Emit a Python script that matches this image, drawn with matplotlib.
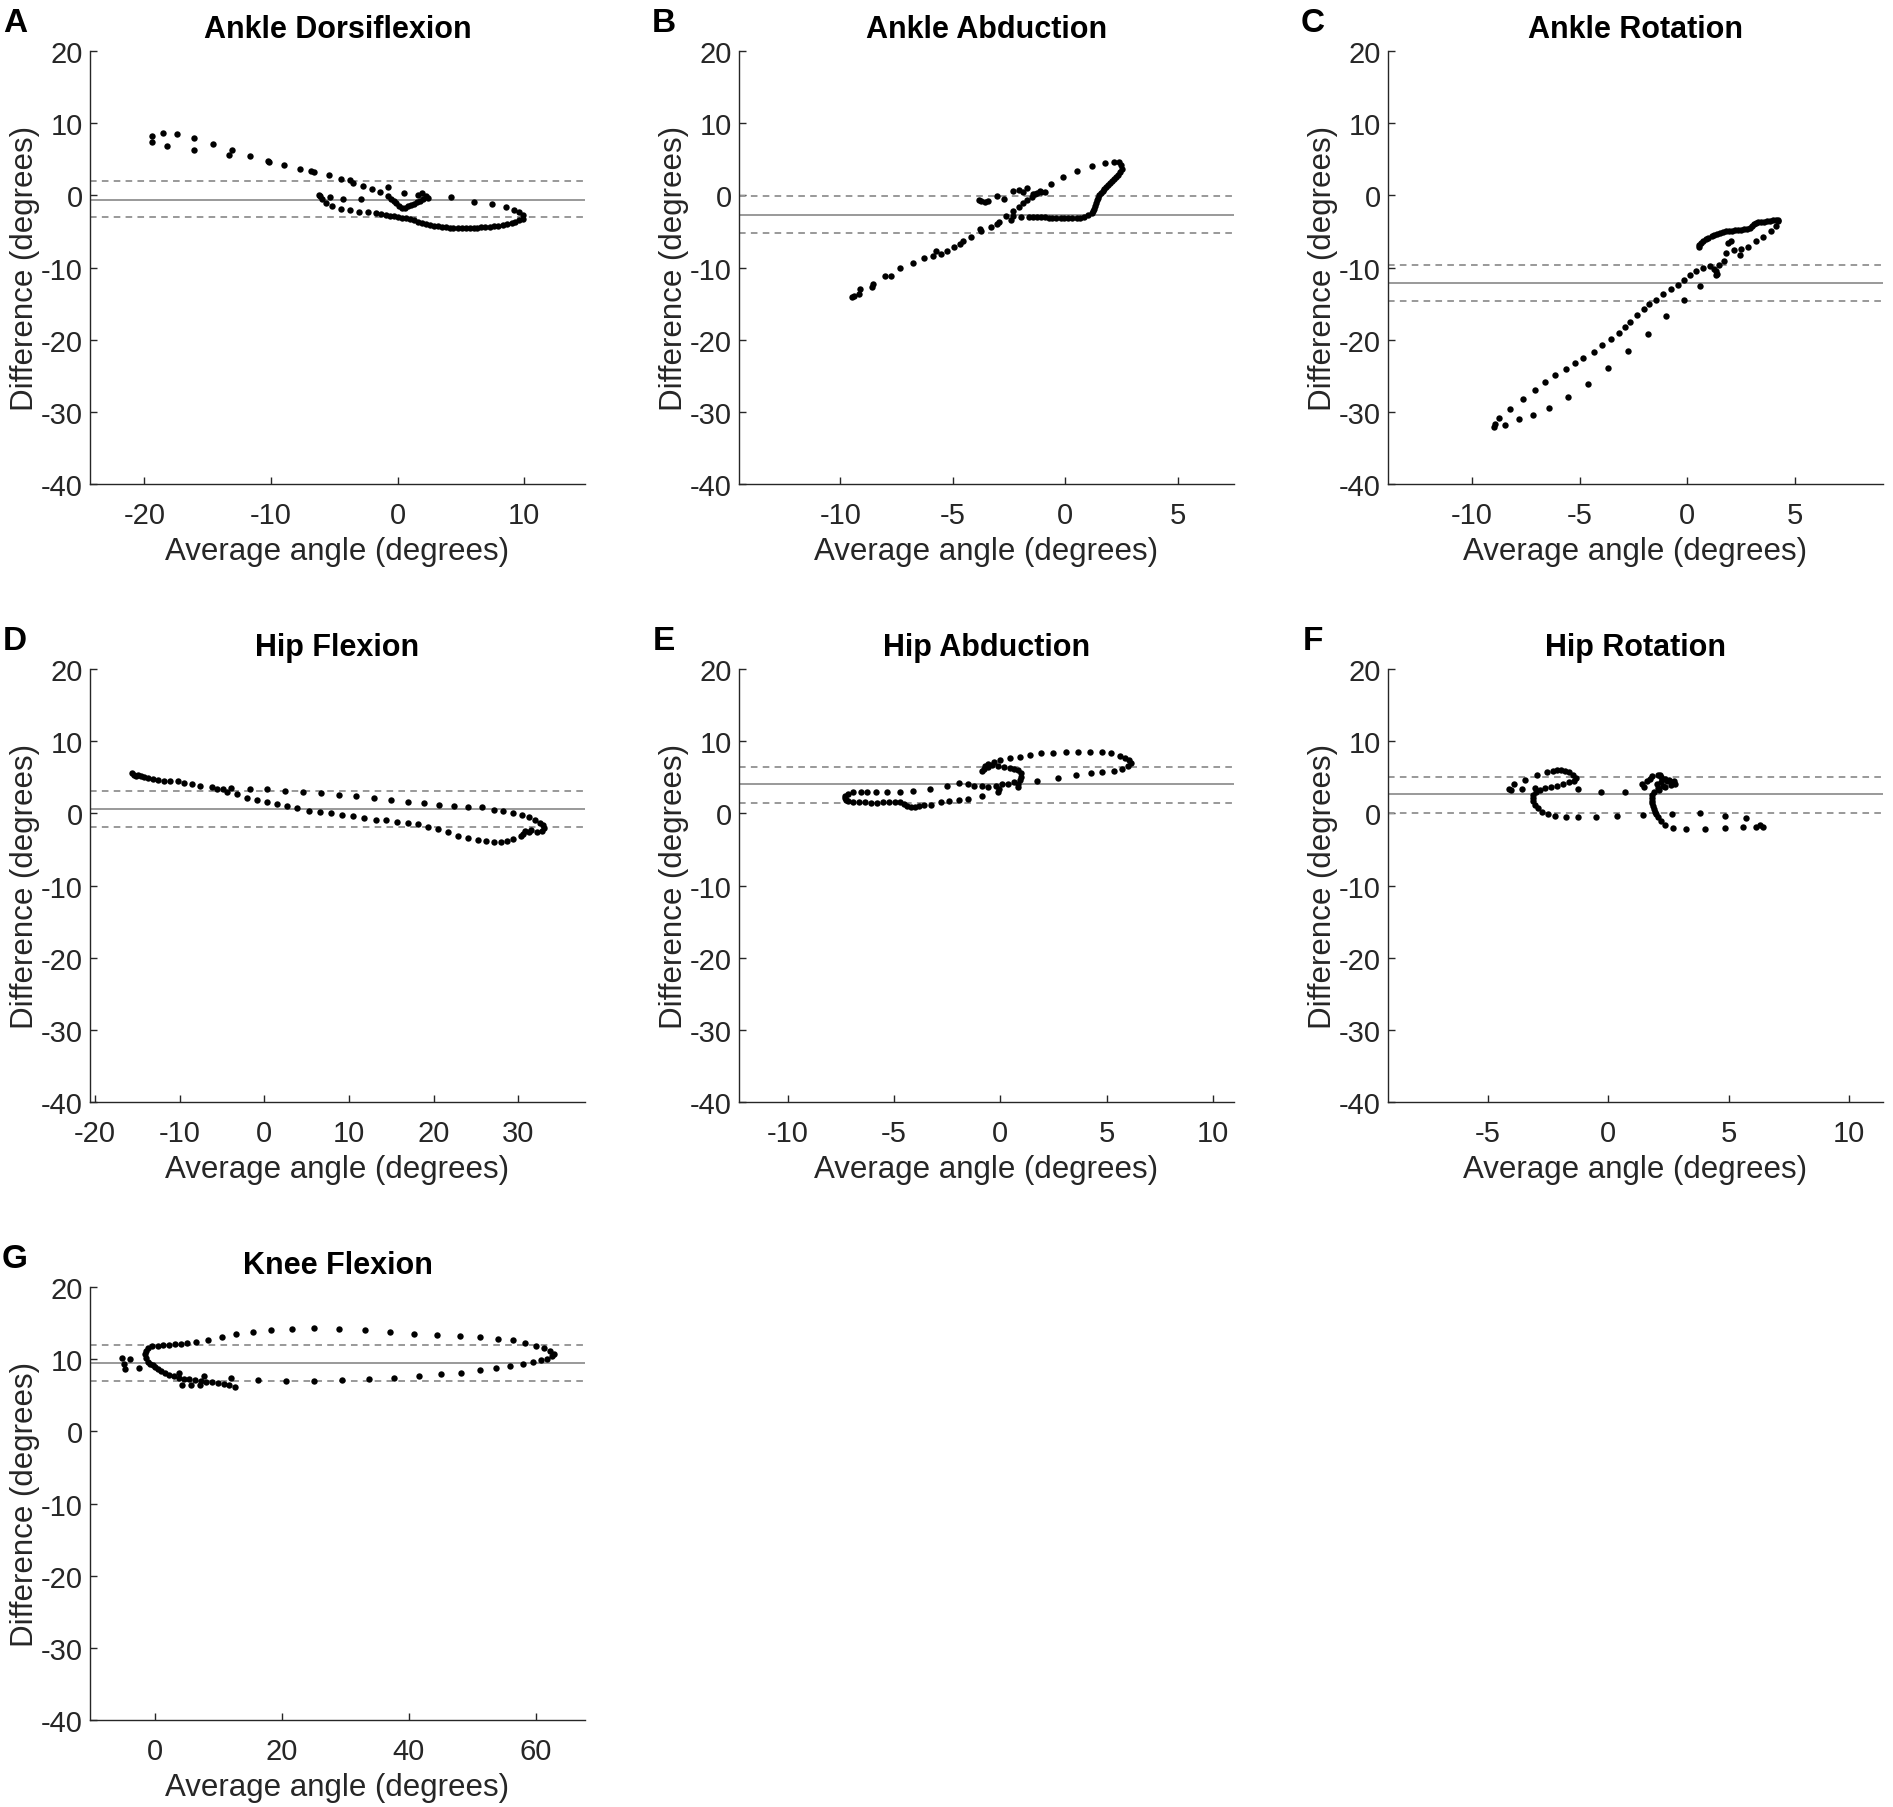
import matplotlib
matplotlib.use("Agg")
import matplotlib.pyplot as plt

plt.rcParams['font.family'] = ['Liberation Sans', 'DejaVu Sans']
plt.rcParams['axes.unicode_minus'] = False

# ---------------- data ----------------
titles = ["Ankle Dorsiflexion", "Ankle Abduction", "Ankle Rotation",
          "Hip Flexion", "Hip Abduction", "Hip Rotation", "Knee Flexion"]
letters = ["A", "B", "C", "D", "E", "F", "G"]

# bias (mean), upper and lower limits of agreement
bias = [-0.6, -2.73, -12.1, 0.56, 4.03, 2.65, 9.49]
loa_upper = [1.94, -0.15, -9.7, 3.06, 6.48, 5.10, 11.99]
loa_lower = [-3.06, -5.2, -14.66, -1.94, 1.48, 0.10, 6.99]

xlims = [(-24.3, 14.8), (-14.5, 7.5), (-13.9, 9.1), (-20.6, 37.9),
         (-12.3, 11.0), (-9.15, 11.4), (-10.2, 67.7)]
xticks = [[-20, -10, 0, 10], [-10, -5, 0, 5], [-10, -5, 0, 5],
          [-20, -10, 0, 10, 20, 30], [-10, -5, 0, 5, 10], [-5, 0, 5, 10],
          [0, 20, 40, 60]]
yticks = [-40, -30, -20, -10, 0, 10, 20]

# Panel A: Ankle Dorsiflexion
a_x = [-19.39, -19.39, -18.57, -18.19, -17.44, -16.06, -16.06, -14.58, -13.29, -13.07,
       -11.66, -10.24, -10.15, -8.95, -7.73, -6.88, -6.57, -5.44, -4.46, -3.74,
       -3.49, -2.73, -2.01, -1.38, -0.79, -0.75, -0.5, -0.28, -0.1, 0.09,
       0.35, 0.5, 0.6, 0.82, 1.05, 1.29, 1.5, 1.6, 1.76, 1.92,
       2.0, 2.23, 2.39, 4.21, 6.06, 7.48, 8.55, 9.21, 9.61, 9.93,
       9.93, 9.6, 9.3, 9.0, 8.6, 8.3, 7.9, 7.6, 7.26, 6.9,
       6.6, 6.3, 6.0, 5.7, 5.37, 5.05, 4.74, 4.4, 4.12, 3.8,
       3.49, 3.2, 2.86, 2.55, 2.23, 1.9, 1.6, 1.3, 0.97, 0.65,
       0.35, 0.0, -0.28, -0.6, -0.91, -1.3, -1.7, -2.32, -3.02, -3.8,
       -4.49, -5.15, -5.62, -5.94, -6.10, -6.2, -5.37, -4.30, -2.89]
a_y = [8.17, 7.35, 8.68, 6.79, 8.53, 7.92, 6.28, 7.10, 5.52, 6.23,
       5.46, 4.75, 4.55, 4.19, 3.68, 3.37, 3.27, 2.81, 2.30, 2.09,
       1.69, 1.28, 0.82, 0.41, 1.17, -0.15, -0.45, -0.77, -1.1, -1.53,
       -1.79, 0.26, -1.7, -1.53, -1.35, -1.17, -0.97, 0.0, -0.77, 0.36,
       -0.5, -0.15, -0.36, -0.20, -0.92, -1.23, -1.63, -2.09, -2.35, -2.71,
       -3.22, -3.45, -3.65, -3.8, -3.95, -4.05, -4.19, -4.28, -4.34, -4.4,
       -4.44, -4.47, -4.49, -4.52, -4.55, -4.55, -4.55, -4.52, -4.49, -4.45,
       -4.39, -4.3, -4.19, -4.07, -3.93, -3.78, -3.63, -3.47, -3.32, -3.2,
       -3.12, -3.0, -2.91, -2.8, -2.71, -2.6, -2.5, -2.35, -2.25, -2.09,
       -1.94, -1.53, -1.02, -0.51, -0.10, 0.0, -0.26, -0.51, -0.51]

# Panel B: Ankle Abduction
b_x = [-9.50, -9.41, -9.15, -9.11, -8.61, -8.53, -8.03, -7.73, -7.34, -6.76,
       -6.26, -5.87, -5.73, -5.52, -5.25, -4.95, -4.67, -4.55, -4.19, -3.79,
       -3.75, -3.31, -3.04, -2.95, -2.65, -2.39, -2.34, -2.07, -1.89, -1.68,
       -1.50, -1.33, -1.13, -0.65, -0.12, 0.53, 1.20, 1.77, 2.18, 2.39,
       2.48, 2.53, 2.44, 2.35, 2.26, 2.18, 2.09, 2.0, 1.91, 1.82,
       1.73, 1.66, 1.59, 1.52, 1.47, 1.41, 1.38, 1.33, 1.29, 1.24,
       1.20, 1.03, 0.85, 0.67, 0.50, 0.32, 0.14, -0.04, -0.21, -0.39,
       -0.57, -0.74, -0.92, -1.10, -1.27, -1.45, -1.63, -1.98, -2.33, -3.75,
       -3.57, -3.43, -3.84, -3.04, -2.74, -2.33, -2.07, -1.89, -1.68, -1.45,
       -1.27, -1.10, -0.92]
b_y = [-14.13, -13.92, -13.62, -13.01, -12.66, -12.25, -11.14, -11.24, -10.13, -9.37,
       -8.71, -8.35, -7.70, -8.10, -7.75, -7.19, -6.68, -6.28, -5.77, -4.66,
       -5.01, -4.35, -4.00, -3.65, -2.89, -3.39, -2.13, -1.62, -1.11, -0.61,
       -0.20, 0.15, 0.61, 1.52, 2.53, 3.34, 4.10, 4.46, 4.61, 4.56,
       4.20, 3.70, 3.19, 2.84, 2.53, 2.23, 1.92, 1.67, 1.42, 1.11,
       0.81, 0.56, 0.30, 0.0, -0.35, -0.71, -1.11, -1.47, -1.87, -2.13,
       -2.38, -2.78, -3.04, -3.09, -3.14, -3.19, -3.19, -3.19, -3.14, -3.14,
       -3.09, -3.09, -3.04, -3.04, -2.99, -2.99, -2.94, -2.94, -2.89, -0.76,
       -0.86, -0.76, -0.61, -0.10, -0.51, 0.66, 0.76, 0.41, 1.01, 0.15,
       0.30, 0.41, 0.51]

# Panel C: Ankle Rotation
c_x = [-8.97, -8.94, -8.74, -8.47, -8.21, -7.82, -7.62, -7.15, -7.08, -6.59,
       -6.41, -6.12, -5.65, -5.54, -5.22, -4.82, -4.60, -4.35, -3.95, -3.68,
       -3.52, -3.16, -2.91, -2.74, -2.65, -2.33, -2.02, -1.82, -1.75, -1.43,
       -1.12, -1.0, -0.76, -0.43, -0.16, -0.13, 0.14, 0.42, 0.60, 0.74,
       1.05, 1.23, 1.32, 1.32, 1.41, 1.46, 1.71, 1.82, 1.90, 2.04,
       2.18, 2.45, 2.49, 2.85, 3.21, 3.52, 3.88, 4.12, 4.24, 4.24,
       4.12, 3.99, 3.84, 3.70, 3.57, 3.43, 3.30, 3.21, 3.12, 3.03,
       2.94, 2.76, 2.62, 2.49, 2.35, 2.22, 2.08, 1.95, 1.81, 1.68,
       1.53, 1.41, 1.26, 1.14, 0.99, 0.87, 0.74, 0.63, 0.56, 0.54]
c_y = [-32.07, -31.66, -30.9, -31.8, -29.6, -31.05, -28.2, -30.4, -26.97, -25.8,
       -29.4, -24.9, -24.0, -27.9, -23.2, -22.5, -26.1, -21.65, -20.8, -23.9,
       -19.9, -19.05, -18.23, -21.6, -17.5, -16.6, -15.73, -19.15, -15.07, -14.45,
       -13.64, -16.7, -13.02, -12.41, -14.56, -11.75, -10.98, -10.47, -12.6, -10.06,
       -9.86, -10.2, -10.47, -10.98, -10.88, -9.70, -9.09, -8.02, -6.64, -6.38,
       -7.51, -8.22, -7.41, -7.15, -6.38, -5.77, -4.95, -4.24, -3.58, -3.42,
       -3.42, -3.47, -3.52, -3.58, -3.63, -3.68, -3.73, -3.83, -4.03, -4.29,
       -4.49, -4.65, -4.70, -4.75, -4.80, -4.85, -4.90, -4.95, -5.01, -5.11,
       -5.21, -5.36, -5.52, -5.67, -5.87, -6.08, -6.33, -6.64, -6.89, -7.15]

# Panel D: Hip Flexion
d_x = [-15.63, -15.40, -15.16, -14.93, -14.60, -14.23, -13.76, -13.19, -12.58, -11.88,
       -11.17, -10.24, -9.53, -8.59, -7.65, -6.24, -5.54, -4.84, -4.37, -3.90,
       -3.19, -2.02, -1.74, -0.85, 0.33, 0.33, 1.50, 2.44, 2.68, 3.85,
       4.55, 5.26, 6.53, 6.67, 7.84, 8.78, 9.15, 10.52, 10.89, 11.83,
       13.0, 13.24, 14.41, 15.02, 15.73, 17.0, 17.0, 18.17, 18.87, 19.34,
       20.52, 20.61, 21.69, 22.39, 22.86, 24.04, 24.04, 25.21, 25.68, 26.15,
       27.09, 27.09, 27.93, 28.26, 28.73, 29.44, 29.44, 30.47, 30.38, 31.32,
       31.32, 32.02, 32.63, 32.96, 33.10, 32.82, 32.25, 30.85, 30.61, 31.55]
d_y = [5.56, 5.31, 5.20, 5.26, 5.15, 5.05, 4.95, 4.80, 4.64, 4.54,
       4.54, 4.44, 4.23, 4.03, 3.83, 3.62, 3.32, 3.42, 3.01, 3.52,
       2.70, 2.19, 3.42, 1.79, 1.58, 3.32, 1.28, 3.11, 1.07, 0.71,
       2.96, 0.31, 0.15, 2.81, 0.0, 2.60, -0.26, -0.41, 2.35, -0.66,
       2.09, -0.87, -0.97, 1.79, -1.17, 1.63, -1.38, -1.48, 1.48, -1.84,
       -2.19, 1.12, -2.60, 1.07, -3.11, -3.47, 0.92, -3.67, 0.82, -3.83,
       -3.98, 0.46, -4.03, 0.26, -3.88, 0.0, -3.62, -0.20, -3.21, -0.56,
       -2.60, -0.92, -1.33, -1.68, -2.09, -2.45, -2.60, -2.50, -2.86, -2.35]

# Panel E: Hip Abduction
e_x = [-7.30, -7.33, -7.26, -7.15, -6.92, -6.64, -6.36, -6.08, -5.80, -5.52,
       -5.24, -4.96, -4.71, -4.55, -4.40, -4.21, -4.02, -3.84, -3.59, -3.27,
       -2.81, -2.43, -1.96, -1.50, -0.84, -0.09, -0.04, -7.15, -6.92, -6.55,
       -6.27, -5.86, -5.33, -4.73, -4.12, -3.33, -2.53, -1.96, -1.50, -1.22,
       -0.84, -0.56, -0.19, 0.09, 0.37, 0.65, 0.84, 0.94, 0.99, 0.97,
       0.84, 0.65, 0.47, 0.19, -0.09, -0.37, -0.60, -0.79, -0.84, -0.71,
       -0.56, -0.28, 0.0, 0.47, 0.94, 1.40, 1.91, 2.47, 3.09, 3.68,
       4.21, 4.77, 5.20, 5.65, 5.89, 6.08, 6.14, 5.99, 5.71, 5.33,
       4.81, 4.27, 3.55, 2.71, 1.74, 0.84]
e_y = [2.40, 2.09, 1.84, 1.68, 1.58, 1.58, 1.53, 1.48, 1.48, 1.53,
       1.58, 1.58, 1.53, 1.28, 1.02, 0.87, 0.92, 0.97, 1.12, 1.22,
       1.58, 1.73, 1.89, 2.04, 2.35, 3.01, 3.42, 2.70, 3.01, 3.01,
       3.01, 3.01, 3.01, 3.01, 3.16, 3.37, 3.78, 4.18, 4.03, 3.78,
       3.78, 3.62, 3.78, 4.03, 4.13, 4.29, 4.13, 4.64, 5.05, 5.56,
       5.97, 6.17, 6.33, 6.48, 6.58, 6.68, 6.48, 6.17, 5.92, 6.58,
       6.84, 7.09, 7.35, 7.60, 7.81, 8.06, 8.32, 8.42, 8.52, 8.52,
       8.52, 8.47, 8.32, 8.01, 7.70, 7.35, 6.99, 6.58, 6.17, 5.82,
       5.71, 5.56, 5.31, 4.95, 4.44, 3.62]

# Panel F: Hip Rotation
f_x = [-4.14, -4.03, -3.90, -3.58, -3.46, -2.98, -2.53, -2.29, -2.13, -1.97,
       -1.81, -1.65, -1.49, -1.36, -1.44, -1.65, -1.89, -2.13, -2.37, -2.62,
       -2.86, -3.02, -3.11, -3.13, -3.11, -3.05, -2.94, -2.74, -2.49, -2.21,
       -1.78, -1.25, -0.53, 0.35, 1.43, -1.25, -0.32, 0.67, -3.06,
       1.40, 1.48, 1.59, 1.80, 2.04, 2.17, 2.33, 2.52, 2.71, 2.76,
       2.60, 2.36, 2.12, 1.91, 1.81, 1.80, 1.84, 1.92, 2.04, 2.17,
       2.36, 2.68, 3.24, 3.99, 4.84, 5.60, 6.13, 6.29, 6.40, 5.70,
       4.84, 3.80, 2.65, 2.15, 1.72, 2.01, 2.20, 2.44, 2.60, 2.04,
       2.28, 1.80, 1.81, 1.88, 1.97]
f_y = [3.42, 3.21, 4.13, 3.42, 4.64, 5.31, 5.66, 5.87, 5.97, 5.97,
       5.87, 5.66, 5.31, 4.95, 4.54, 4.29, 4.03, 3.83, 3.62, 3.52,
       3.27, 3.01, 2.60, 2.14, 1.68, 1.22, 0.71, 0.20, -0.15, -0.36,
       -0.46, -0.56, -0.46, -0.36, -0.20, 3.32, 3.01, 3.01, 3.52,
       4.03, 3.62, 4.44, 5.15, 5.31, 5.05, 4.80, 4.64, 4.54, 4.13,
       3.93, 3.62, 3.27, 3.01, 2.50, 1.73, 0.97, 0.20, -0.56, -1.07,
       -1.58, -1.99, -2.24, -2.14, -1.99, -1.84, -1.94, -1.58, -1.84, -0.71,
       -0.36, 0.0, -0.05, 5.31, 4.80, 4.03, 4.29, 4.44, 4.29, 3.52,
       3.78, 2.09, 1.38, 0.61, -0.15]

# Panel G: Knee Flexion
g_x = [-5.13, -4.81, -4.69, -3.88, -2.50, -1.56, -1.38, -1.06, -0.44, 0.50,
       1.31, 2.19, 3.13, 4.06, 5.0, 6.44, 8.31, 10.5, 12.81, 15.5,
       18.31, 21.56, 25.06, 28.94, 33.0, 36.94, 40.81, 44.44, 48.0, 51.25,
       53.94, 56.44, 58.31, 60.0, 61.31, 62.25, 62.88, 62.56, 61.75, 60.81,
       59.56, 58.0, 55.94, 53.75, 51.13, 48.19, 45.0, 41.56, 37.69, 33.63,
       29.44, 25.06, 20.69, 16.25, -1.38, -1.06, -0.75, -0.31, 0.06, 0.5,
       1.0, 1.63, 2.25, 3.0, 3.81, 4.56, 5.44, 6.31, 7.19, 8.13,
       8.94, 9.88, 10.81, 11.75, 12.56, 4.25, 5.63, 7.06, 7.69, 11.94,
       3.81]
g_y = [10.15, 9.39, 8.62, 10.05, 8.78, 10.66, 11.17, 11.58, 11.79, 11.89,
       11.94, 11.99, 12.04, 12.09, 12.19, 12.40, 12.70, 13.11, 13.42, 13.72,
       14.08, 14.23, 14.34, 14.23, 14.08, 13.83, 13.52, 13.32, 13.21, 13.11,
       12.86, 12.60, 12.24, 11.89, 11.58, 11.17, 10.77, 10.41, 10.05, 9.85,
       9.64, 9.34, 9.08, 8.72, 8.47, 8.11, 7.91, 7.60, 7.40, 7.30,
       7.14, 6.99, 6.94, 7.09, 10.15, 9.64, 9.39, 9.13, 8.88, 8.62,
       8.37, 8.11, 7.86, 7.60, 7.45, 7.30, 7.19, 7.09, 6.99, 6.89,
       6.79, 6.68, 6.58, 6.43, 6.17, 6.43, 6.38, 6.48, 7.60, 7.35,
       8.11]

xs = [a_x, b_x, c_x, d_x, e_x, f_x, g_x]
ys = [a_y, b_y, c_y, d_y, e_y, f_y, g_y]

# ---------------- layout ----------------
W, H = 1893, 1808
fig = plt.figure(figsize=(W / 100, H / 100), dpi=100)

col_left = [90, 739, 1388]
row_top = [52, 670, 1288]
ax_w, ax_h = 495, 433

gray_txt = (0.15, 0.15, 0.15)
line_gray = (0.6, 0.6, 0.6)

for i in range(7):
    r, c = divmod(i, 3)
    left = col_left[c] / W
    bottom = 1 - (row_top[r] + ax_h) / H
    ax = fig.add_axes([left, bottom, ax_w / W, ax_h / H])
    ax.plot(xs[i], ys[i], 'o', ms=4.6, color='k', mec='none', zorder=3)
    ax.axhline(bias[i], color=line_gray, lw=1.4, zorder=2)
    ax.axhline(loa_upper[i], color=line_gray, lw=1.4, ls=(0, (3.4, 2.7)), zorder=2)
    ax.axhline(loa_lower[i], color=line_gray, lw=1.4, ls=(0, (3.4, 2.7)), zorder=2)
    ax.set_xlim(*xlims[i])
    ax.set_ylim(-40, 20)
    ax.set_xticks(xticks[i])
    ax.set_yticks(yticks)
    ax.spines['top'].set_visible(False)
    ax.spines['right'].set_visible(False)
    for s in ('left', 'bottom'):
        ax.spines[s].set_color(gray_txt)
        ax.spines[s].set_linewidth(1.0)
    ax.tick_params(direction='in', length=5, width=1.0, colors=gray_txt,
                   labelsize=21)
    ax.tick_params(axis='x', pad=12)
    ax.tick_params(axis='y', pad=5)
    ax.set_xlabel("Average angle (degrees)", fontsize=22.5, color=gray_txt, labelpad=5)
    ax.set_ylabel("Difference (degrees)", fontsize=22.5, color=gray_txt, labelpad=1)
    ax.set_title(titles[i], fontsize=22, fontweight='bold', pad=10)
    fig.text((col_left[c] - 75) / W, 1 - (row_top[r] - 28) / H, letters[i],
             fontsize=24, fontweight='bold', ha='center', va='center')

fig.savefig("out.png", dpi=100)
